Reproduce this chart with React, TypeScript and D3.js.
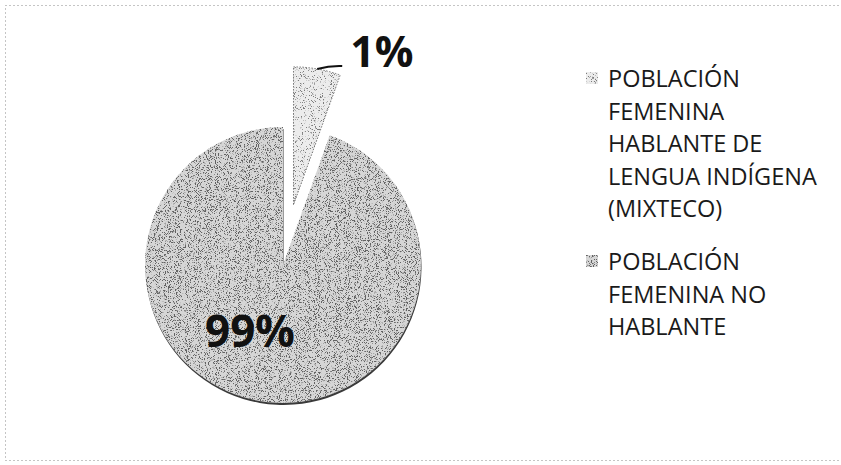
import React from "react";
import * as d3 from "d3";

const categories: string[] = [
  "POBLACIÓN FEMENINA HABLANTE DE LENGUA INDÍGENA (MIXTECO)",
  "POBLACIÓN FEMENINA NO HABLANTE",
];
const sliceValues: number[] = [5.5, 94.5];
const sliceLabels: string[] = ["1%", "99%"];
const legendLines: string[][] = [
  ["POBLACIÓN", "FEMENINA", "HABLANTE DE", "LENGUA INDÍGENA", "(MIXTECO)"],
  ["POBLACIÓN", "FEMENINA NO", "HABLANTE"],
];

const W = 841;
const H = 465;
const CX = 283;
const CY = 265;
const R = 138;
const EXPLODE = [61, 0];
const fills = ["#ececec", "#d6d6d6"];
const filters = ["stipLight", "stipDark"];

export default function App() {
  const pie = d3
    .pie<number>()
    .sort(null)
    .startAngle(0)
    .endAngle(2 * Math.PI)
    .value((d) => d);
  const arcs = pie(sliceValues);
  const arcGen = d3.arc<d3.PieArcDatum<number>>().innerRadius(0).outerRadius(R);

  const offsets = arcs.map((a, i) => {
    const mid = (a.startAngle + a.endAngle) / 2;
    return [Math.sin(mid) * EXPLODE[i], -Math.cos(mid) * EXPLODE[i]];
  });

  // leader for small slice
  const a0 = arcs[0];
  const mid0 = (a0.startAngle + a0.endAngle) / 2;
  const lx0 = CX + offsets[0][0] + Math.sin(mid0) * R;
  const ly0 = CY + offsets[0][1] - Math.cos(mid0) * R;
  const lx1 = lx0 + 25;
  const ly1 = ly0 - 3;

  const legendX = 586;
  const legendTextX = 608;
  const groupBase = [87, 270];
  const lineH = 32.5;

  return (
    <svg
      width={W}
      height={H}
      style={{ position: "absolute", left: 0, top: 0, background: "#fff" }}
    >
      <defs>
        <filter id="stipDark" x="-5%" y="-5%" width="110%" height="110%">
          <feTurbulence type="fractalNoise" baseFrequency="1.1" numOctaves="2" seed="4" result="n" />
          <feColorMatrix
            in="n"
            type="matrix"
            values="0 0 0 0 0.12  0 0 0 0 0.12  0 0 0 0 0.12  -10 0 0 0 4.6"
            result="d"
          />
          <feComposite in="d" in2="SourceGraphic" operator="in" result="dm" />
          <feMerge>
            <feMergeNode in="SourceGraphic" />
            <feMergeNode in="dm" />
          </feMerge>
        </filter>
        <filter id="stipLight" x="-5%" y="-5%" width="110%" height="110%">
          <feTurbulence type="fractalNoise" baseFrequency="1.1" numOctaves="2" seed="9" result="n" />
          <feColorMatrix
            in="n"
            type="matrix"
            values="0 0 0 0 0.2  0 0 0 0 0.2  0 0 0 0 0.2  -10 0 0 0 4.1"
            result="d"
          />
          <feComposite in="d" in2="SourceGraphic" operator="in" result="dm" />
          <feMerge>
            <feMergeNode in="SourceGraphic" />
            <feMergeNode in="dm" />
          </feMerge>
        </filter>
      </defs>

      {/* chart frame */}
      <rect
        x={5.5}
        y={5.5}
        width={W + 10}
        height={455}
        fill="none"
        stroke="#8a8a8a"
        strokeWidth={1}
        strokeDasharray="1 3"
      />

      {/* shadow under big slice */}
      <path
        d={arcGen(arcs[1]) || ""}
        transform={`translate(${CX + offsets[1][0] + 0.5},${CY + offsets[1][1] + 2})`}
        fill="#3a3a3a"
      />

      {arcs.map((a, i) => (
        <path
          key={i}
          d={arcGen(a) || ""}
          transform={`translate(${CX + offsets[i][0]},${CY + offsets[i][1]})`}
          fill={fills[i]}
          stroke={i === 0 ? "#555" : "none"}
          strokeWidth={0.8}
          strokeDasharray={i === 0 ? "1.5 1.5" : undefined}
          filter={`url(#${filters[i]})`}
        />
      ))}

      {/* leader line for the small slice */}
      <path
        d={`M${lx0},${ly0} Q${(lx0 + lx1) / 2},${ly1 - 0.5} ${lx1},${ly1}`}
        fill="none"
        stroke="#111"
        strokeWidth={2}
      />

      <text
        x={lx1 + 8}
        y={67}
        fontFamily="'Open Sans', sans-serif"
        fontWeight={700}
        fontSize={43}
        fill="#111"
      >
        {sliceLabels[0]}
      </text>
      <text
        x={CX - 33}
        y={CY + 82}
        textAnchor="middle"
        fontFamily="'Open Sans', sans-serif"
        fontWeight={700}
        fontSize={44}
        fill="#111"
      >
        {sliceLabels[1]}
      </text>

      {/* legend */}
      {categories.map((c, i) => (
        <g key={c}>
          <rect
            x={legendX}
            y={groupBase[i] - 15}
            width={12}
            height={12}
            fill={fills[i]}
            filter={`url(#${filters[i]})`}
          />
          {legendLines[i].map((ln, j) => (
            <text
              key={j}
              x={legendTextX}
              y={groupBase[i] + j * lineH}
              fontFamily="'Open Sans', sans-serif"
              fontSize={23.5}
              fill="#1a1a1a"
            >
              {ln}
            </text>
          ))}
        </g>
      ))}
    </svg>
  );
}
